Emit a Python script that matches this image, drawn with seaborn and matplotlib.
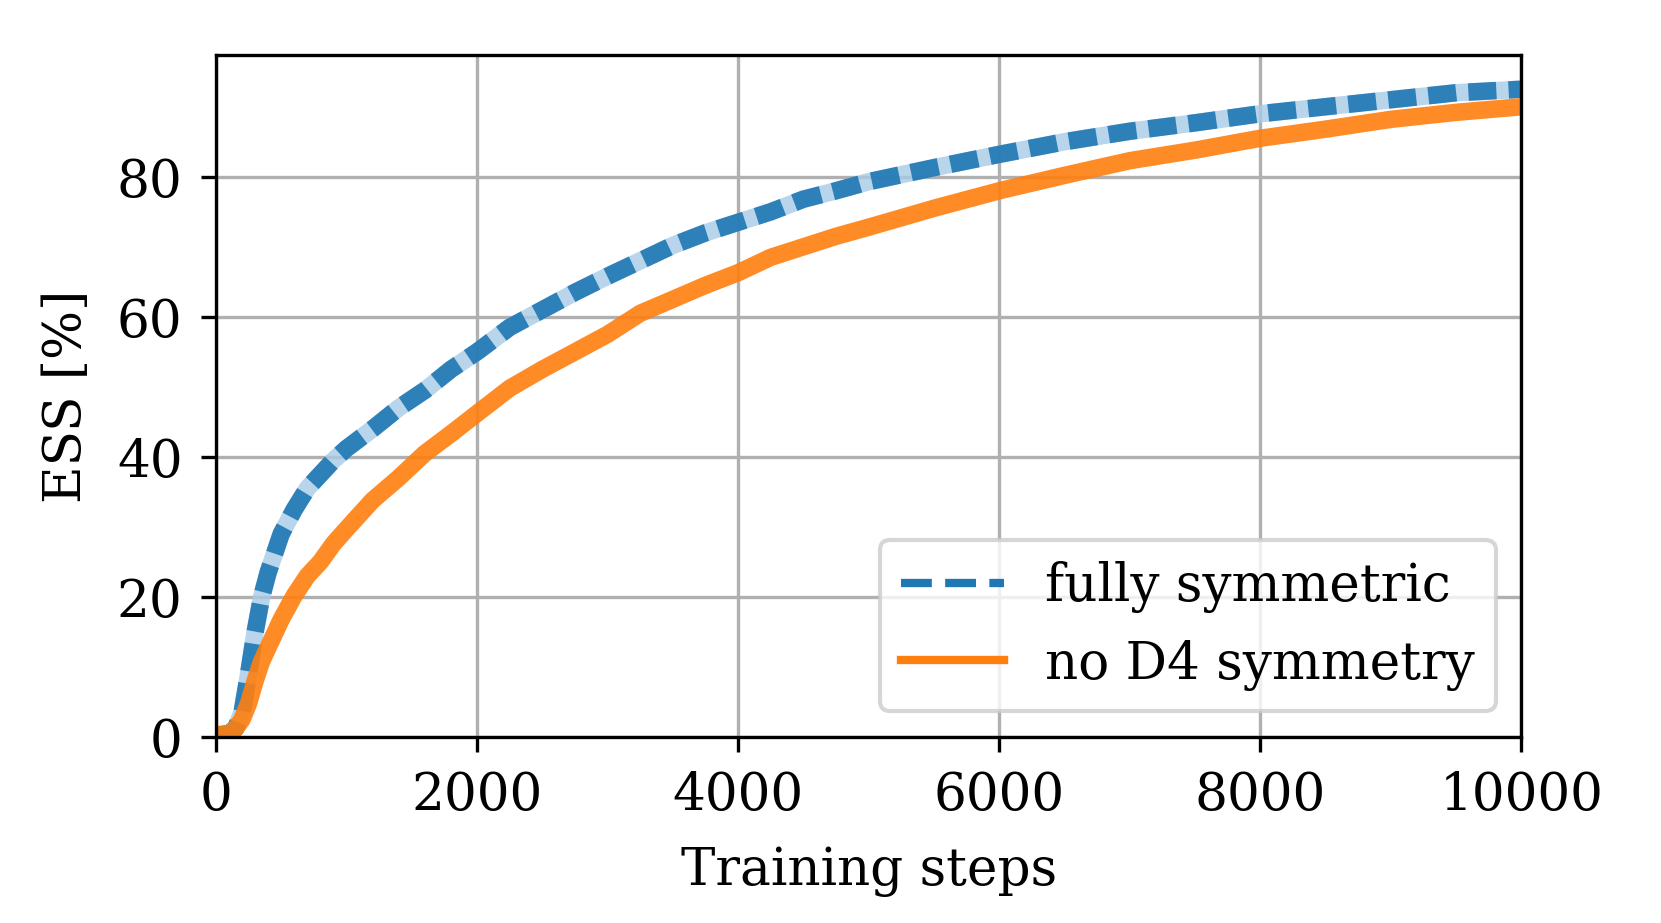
import pandas as pd
import numpy as np
import matplotlib
matplotlib.use('Agg')
import matplotlib.pyplot as plt
import seaborn as sns
from matplotlib.lines import Line2D

steps = [0, 100, 150, 200, 250, 300, 350, 400, 500, 600, 700, 800, 900, 1000,
         1200, 1400, 1600, 1800, 2000, 2250, 2500, 2750, 3000, 3250, 3500, 3750,
         4000, 4250, 4500, 4750, 5000, 5500, 6000, 6500, 7000, 7500, 8000, 8500,
         9000, 9500, 10000]

ess_sym = [0.2, 0.5, 1.2, 3.5, 9.0, 15.0, 20.0, 23.5, 29.0, 32.5, 35.5, 37.5, 39.5, 41.2,
           44.0, 47.0, 49.5, 52.5, 55.0, 58.5, 61.0, 63.5, 65.8, 68.0, 70.2, 72.0,
           73.5, 75.0, 76.8, 78.0, 79.3, 81.3, 83.2, 85.0, 86.5, 87.7, 89.0, 90.0,
           91.0, 92.0, 92.5]

ess_nod4 = [0.3, 0.5, 1.2, 2.5, 4.8, 8.0, 10.8, 12.8, 16.8, 20.2, 23.0, 25.0, 27.6, 29.7,
            33.8, 37.0, 40.5, 43.3, 46.2, 49.8, 52.5, 55.0, 57.5, 60.5, 62.5, 64.5,
            66.3, 68.5, 70.0, 71.5, 72.8, 75.5, 78.0, 80.2, 82.3, 83.8, 85.5, 86.8,
            88.2, 89.2, 90.0]

labels = ['fully symmetric', 'no D4 symmetry']
colors = {'fully symmetric': '#1f77b4', 'no D4 symmetry': '#ff7f0e'}

df = pd.DataFrame({
    'step': steps + steps,
    'ess': ess_sym + ess_nod4,
    'model': [labels[0]] * len(steps) + [labels[1]] * len(steps),
})

plt.rcParams['font.family'] = 'serif'
plt.rcParams['font.serif'] = ['DejaVu Serif']
plt.rcParams['font.size'] = 12.4

fig = plt.figure(figsize=(1661 / 300, 923 / 300), dpi=300)
ax = fig.add_axes([0.130, 0.2015, 0.786, 0.739])

# light underlay so the gaps of the dashed runs look filled
sns.lineplot(data=df[df['model'] == labels[0]], x='step', y='ess', color='#a6cbe6',
             lw=4.2, alpha=0.8, ax=ax, legend=False)
sns.lineplot(data=df, x='step', y='ess', hue='model', style='model',
             palette=colors, dashes={labels[0]: (1.6, 0.7), labels[1]: ''},
             lw=4.2, alpha=0.9, ax=ax, legend=False)

ax.set_xlim(0, 10000)
ax.set_ylim(0, 97.4)
ax.set_xticks([0, 2000, 4000, 6000, 8000, 10000])
ax.set_yticks([0, 20, 40, 60, 80])
ax.tick_params(pad=4.5)
ax.grid(True, color='#b0b0b0', lw=0.8)
ax.set_axisbelow(True)
ax.set_xlabel('Training steps', labelpad=6)
ax.set_ylabel('ESS [%]', labelpad=6)

handles = [Line2D([], [], color=colors[labels[0]], lw=2.0, ls='--'),
           Line2D([], [], color=colors[labels[1]], lw=2.0, ls='-')]
ax.legend(handles, labels, loc='lower right', handlelength=2.0, fontsize=12.4)

fig.savefig('out.png', dpi=300)
